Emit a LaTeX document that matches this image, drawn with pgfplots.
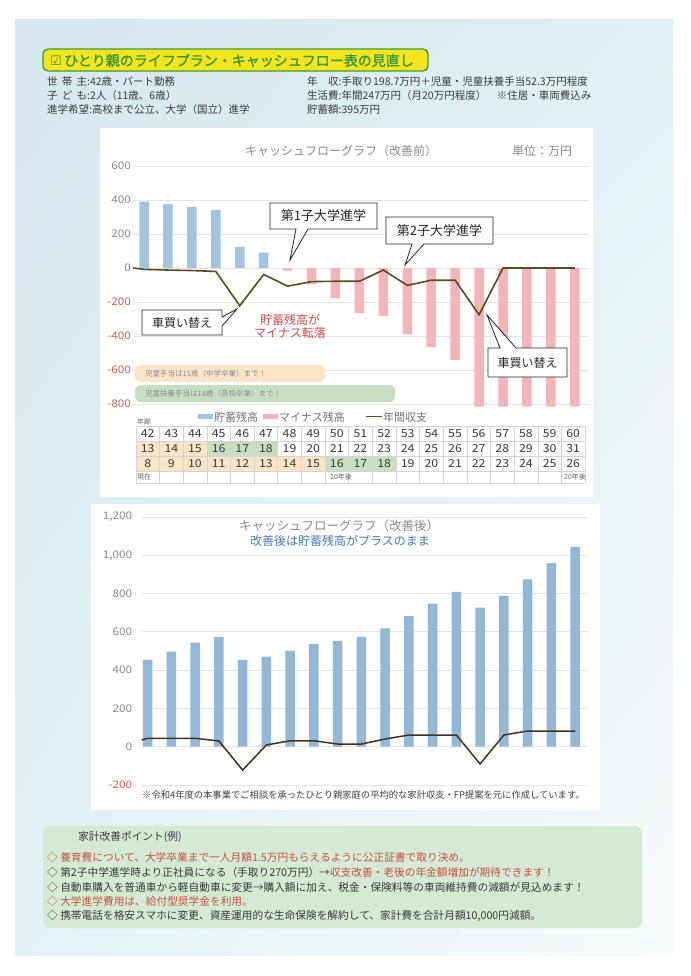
\documentclass[border=0pt]{standalone}
\usepackage{fontspec}
\setmainfont{Noto Sans CJK JP}
\newfontfamily\dejavu{DejaVu Sans}
\newfontfamily\boldjp{Noto Sans CJK JP}[FakeBold=2]
\newfontfamily\widejp{Noto Sans CJK JP}[FakeStretch=1.12]
\usepackage{pgfplots}
\pgfplotsset{compat=1.18}
\usetikzlibrary{shadings}
\definecolor{bgA}{HTML}{D5E8EE}
\definecolor{bgB}{HTML}{E2F0F3}
\definecolor{bgC}{HTML}{E4F1F4}
\definecolor{bgD}{HTML}{F8FBFC}
\definecolor{ttlyellow}{HTML}{F5E51E}
\definecolor{ttlgreen}{HTML}{3F9A38}
\definecolor{txtdark}{HTML}{3A3A3A}
\definecolor{barblue}{HTML}{A3C4E0}
\definecolor{barblue2}{HTML}{93B7D7}
\definecolor{barpink}{HTML}{F5B4BB}
\definecolor{lineolive}{HTML}{5A4C1E}
\definecolor{linetwo}{HTML}{3E3420}
\definecolor{gridgray}{HTML}{E4E4E4}
\definecolor{tickgray}{HTML}{8C8C8C}
\definecolor{negred}{HTML}{D0605A}
\definecolor{annred}{HTML}{D24B4B}
\definecolor{peach}{HTML}{FBE4C8}
\definecolor{sage}{HTML}{C9DEC0}
\definecolor{subblue}{HTML}{4A7CB4}
\definecolor{boxgreen}{HTML}{D6E9D5}
\definecolor{ptred}{HTML}{C4553F}
\definecolor{tblline}{HTML}{D4D4D4}
\begin{document}
\begin{tikzpicture}[x=1pt,y=-1pt]
% page background
\fill[white] (0,0) rectangle (690,976);
\shade[upper left=bgA, upper right=bgB, lower left=bgC, lower right=bgD] (15,20) rectangle (673,955);
% title box
\draw[fill=ttlyellow, draw=ttlgreen, line width=1.4pt, rounded corners=5pt] (43,49) rectangle (428,71);
\node[anchor=west, inner sep=0, text=ttlgreen, font=\boldjp\fontsize{14}{16}\selectfont] at (50,60.5) {{\dejavu\fontsize{13}{15}\selectfont ☑}\,ひとり親のライフプラン・キャッシュフロー表の見直し};
% info text
\begin{scope}[every node/.style={anchor=west, inner sep=0, text=txtdark, font=\fontsize{10.5}{12}\selectfont}]
\node at (47,82) {世\hspace{0.4em}帯\hspace{0.4em}主:42歳・パート勤務};
\node at (47,96) {子\hspace{0.4em}ど\hspace{0.4em}も:2人（11歳、6歳）};
\node at (47,110) {進学希望:高校まで公立、大学（国立）進学};
\node at (307,82) {年\hspace{1em}収:手取り198.7万円＋児童・児童扶養手当52.3万円程度};
\node at (307,96) {生活費:年間247万円（月20万円程度）\hspace{1em}※住居・車両費込み};
\node at (307,110) {貯蓄額:395万円};
\end{scope}
% chart panels
\fill[white] (100,128) rectangle (593,497);
\fill[white] (91,504) rectangle (600,810);
% chart 1 titles
\node[text=tickgray, font=\fontsize{12}{14}\selectfont] at (341,151) {キャッシュフローグラフ（改善前）};
\node[text=tickgray, font=\fontsize{12}{14}\selectfont] at (542,151) {単位：万円};
% chart 1
\begin{axis}[at={(133pt,-407.4pt)}, anchor=south west, scale only axis, width=455pt, height=241.4pt,
  xmin=0.54, xmax=19.55, ymin=-820, ymax=600,
  axis line style={draw=none}, xtick=\empty,
  ytick={-800,-600,-400,-200,0,200,400,600},
  yticklabels={\textcolor{negred}{-800},\textcolor{negred}{-600},\textcolor{negred}{-400},\textcolor{negred}{-200},0,200,400,600},
  ymajorgrids, grid style={draw=gridgray, line width=0.7pt},
  major tick length=0pt,
  yticklabel style={font=\widejp\fontsize{10.5}{12}\selectfont, text=tickgray, xshift=1.5pt}]
\addplot[ybar, bar width=9.5pt, bar shift=0pt, fill=barblue, draw=none] coordinates {(1,390)(2,376)(3,360)(4,341)(5,125)(6,90)};
\addplot[ybar, bar width=9.5pt, bar shift=0pt, fill=barpink, draw=none] coordinates {(7,-15)(8,-96)(9,-178)(10,-266)(11,-282)(12,-390)(13,-465)(14,-540)(15,-815)(16,-815)(17,-815)(18,-815)(19,-815)};
\addplot[lineolive, line width=1.6pt, sharp plot, mark=none] coordinates {(0.54,0)(1,-8)(2,-12)(3,-15)(4,-20)(5,-222)(6,-38)(7,-107)(8,-80)(9,-78)(10,-78)(11,-12)(12,-102)(13,-72)(14,-72)(15,-275)(16,0)(17,0)(18,0)(19,0)};
\end{axis}
% child allowance bars
\fill[peach, rounded corners=6pt] (135,365) rectangle (325,382);
\fill[sage, rounded corners=6pt] (135,385) rectangle (395,402);
\node[anchor=west, inner sep=0, text=black!45, font=\fontsize{7.5}{9}\selectfont] at (145,373.5) {児童手当は15歳（中学卒業）まで！};
\node[anchor=west, inner sep=0, text=black!45, font=\fontsize{7.5}{9}\selectfont] at (145,393.5) {児童扶養手当は18歳（高校卒業）まで！};
% red annotation
\node[text=annred, font=\fontsize{12}{14}\selectfont, align=center, inner sep=0] at (290,326) {貯蓄残高が\\[-1pt]マイナス転落};
% callouts
\begin{scope}[draw=black!85, line width=0.8pt, fill=white]
\draw[fill=white] (270,203) -- (377,203) -- (377,229) -- (308,229) -- (290,260) -- (296,229) -- (270,229) -- cycle;
\draw[fill=white] (386,217) -- (493,217) -- (493,244) -- (424,244) -- (405,265) -- (412,244) -- (386,244) -- cycle;
\draw[fill=white] (142,310) -- (222,310) -- (222,317) -- (237,309) -- (222,326) -- (222,335) -- (142,335) -- cycle;
\draw[fill=white] (488,348) -- (500,348) -- (487,315) -- (516,348) -- (567,348) -- (567,377) -- (488,377) -- cycle;
\end{scope}
\node[font=\fontsize{13}{15}\selectfont, text=black!85] at (323.5,216) {第1子大学進学};
\node[font=\fontsize{13}{15}\selectfont, text=black!85] at (439.5,230.5) {第2子大学進学};
\node[font=\fontsize{12}{14}\selectfont, text=black!85] at (182,322.5) {車買い替え};
\node[font=\fontsize{12}{14}\selectfont, text=black!85] at (527.5,362.5) {車買い替え};
% legend
\fill[barblue] (198,414) rectangle (213,419);
\node[anchor=west, inner sep=0, text=black!55, font=\fontsize{11}{13}\selectfont] at (214,417) {貯蓄残高};
\fill[barpink] (263,414) rectangle (278,419);
\node[anchor=west, inner sep=0, text=black!55, font=\fontsize{11}{13}\selectfont] at (279,417) {マイナス残高};
\draw[lineolive, line width=1.6pt] (366,416.5) -- (382,416.5);
\node[anchor=west, inner sep=0, text=black!55, font=\fontsize{11}{13}\selectfont] at (383,417) {年間収支};
% age table
\node[anchor=west, inner sep=0, text=black!60, font=\fontsize{7}{8}\selectfont] at (137,421.5) {年齢};
\foreach \i in {0,1,2} {\fill[peach] ({135.9+\i*23.64},441) rectangle ++(23.64,15);}
\foreach \i in {3,4,5} {\fill[sage] ({135.9+\i*23.64},441) rectangle ++(23.64,15);}
\foreach \i in {0,...,7} {\fill[peach] ({135.9+\i*23.64},456) rectangle ++(23.64,15);}
\foreach \i in {8,9,10} {\fill[sage] ({135.9+\i*23.64},456) rectangle ++(23.64,15);}
\foreach \yy in {426,441,456,471,483} {\draw[tblline, line width=0.5pt] (135.9,\yy) -- (585.1,\yy);}
\foreach \i in {0,...,19} {\draw[tblline, line width=0.5pt] ({135.9+\i*23.64},426) -- ({135.9+\i*23.64},483);}
\foreach \i in {0,...,18} {
  \pgfmathtruncatemacro\va{42+\i}
  \pgfmathtruncatemacro\vb{13+\i}
  \pgfmathtruncatemacro\vc{8+\i}
  \node[text=txtdark, font=\widejp\fontsize{11}{12}\selectfont, inner sep=0] at ({147.7+\i*23.64},433.5) {\va};
  \node[text=txtdark, font=\widejp\fontsize{11}{12}\selectfont, inner sep=0] at ({147.7+\i*23.64},448.5) {\vb};
  \node[text=txtdark, font=\widejp\fontsize{11}{12}\selectfont, inner sep=0] at ({147.7+\i*23.64},463.5) {\vc};
}
\node[anchor=west, inner sep=0, text=black!60, font=\fontsize{7}{8}\selectfont] at (137,477) {現在};
\node[inner sep=0, text=black!60, font=\fontsize{7}{8}\selectfont] at (341,477) {10年後};
\node[inner sep=0, text=black!60, font=\fontsize{7}{8}\selectfont] at (575,477) {20年後};
% chart 2
\begin{axis}[at={(141.7pt,-785pt)}, anchor=south west, scale only axis, width=445pt, height=268.1pt,
  xmin=0.75, xmax=19.49, ymin=-200, ymax=1200,
  axis line style={draw=none}, xtick=\empty,
  ytick={-200,0,200,400,600,800,1000,1200},
  yticklabels={\textcolor{negred}{-200},0,200,400,600,800,{1,000},{1,200}},
  ymajorgrids, grid style={draw=gridgray, line width=0.7pt},
  major tick length=0pt,
  yticklabel style={font=\widejp\fontsize{10.5}{12}\selectfont, text=tickgray, xshift=-6pt}]
\addplot[ybar, bar width=9.5pt, bar shift=0pt, fill=barblue2, draw=none] coordinates {(1,453)(2,496)(3,543)(4,574)(5,453)(6,470)(7,501)(8,536)(9,553)(10,574)(11,618)(12,682)(13,747)(14,809)(15,726)(16,787)(17,874)(18,958)(19,1044)};
\addplot[linetwo, line width=1.5pt, sharp plot, mark=none] coordinates {(0.75,35)(1,44)(2,44)(3,44)(4,30)(5,-122)(6,9)(7,31)(8,31)(9,14)(10,14)(11,40)(12,61)(13,61)(14,61)(15,-90)(16,61)(17,82)(18,82)(19,82)};
\end{axis}
\node[text=tickgray, font=\fontsize{12.5}{14}\selectfont] at (339,525.5) {キャッシュフローグラフ（改善後）};
\node[text=subblue, font=\fontsize{12}{14}\selectfont] at (340,540.5) {改善後は貯蓄残高がプラスのまま};
\node[anchor=west, inner sep=0, text=black!75, font=\fontsize{9.3}{11}\selectfont] at (142,795) {※令和4年度の本事業でご相談を承ったひとり親家庭の平均的な家計収支・FP提案を元に作成しています。};
% bottom box
\fill[boxgreen, rounded corners=7pt] (43,826) rectangle (642,928);
\begin{scope}[every node/.style={anchor=west, inner sep=0, text=txtdark, font=\fontsize{10.7}{12}\selectfont}]
\node at (78,837) {家計改善ポイント(例)};
\node[text=ptred] at (47,857) {◇ 養育費について、大学卒業まで一人月額1.5万円もらえるように公正証書で取り決め。};
\node at (47,872) {◇ 第2子中学進学時より正社員になる（手取り270万円）→\textcolor{ptred}{収支改善・老後の年金額増加が期待できます！}};
\node at (47,887) {◇ 自動車購入を普通車から軽自動車に変更→購入額に加え、税金・保険料等の車両維持費の減額が見込めます！};
\node[text=ptred] at (47,901.5) {◇ 大学進学費用は、給付型奨学金を利用。};
\node at (47,916) {◇ 携帯電話を格安スマホに変更、資産運用的な生命保険を解約して、家計費を合計月額10,000円減額。};
\end{scope}
\end{tikzpicture}
\end{document}
